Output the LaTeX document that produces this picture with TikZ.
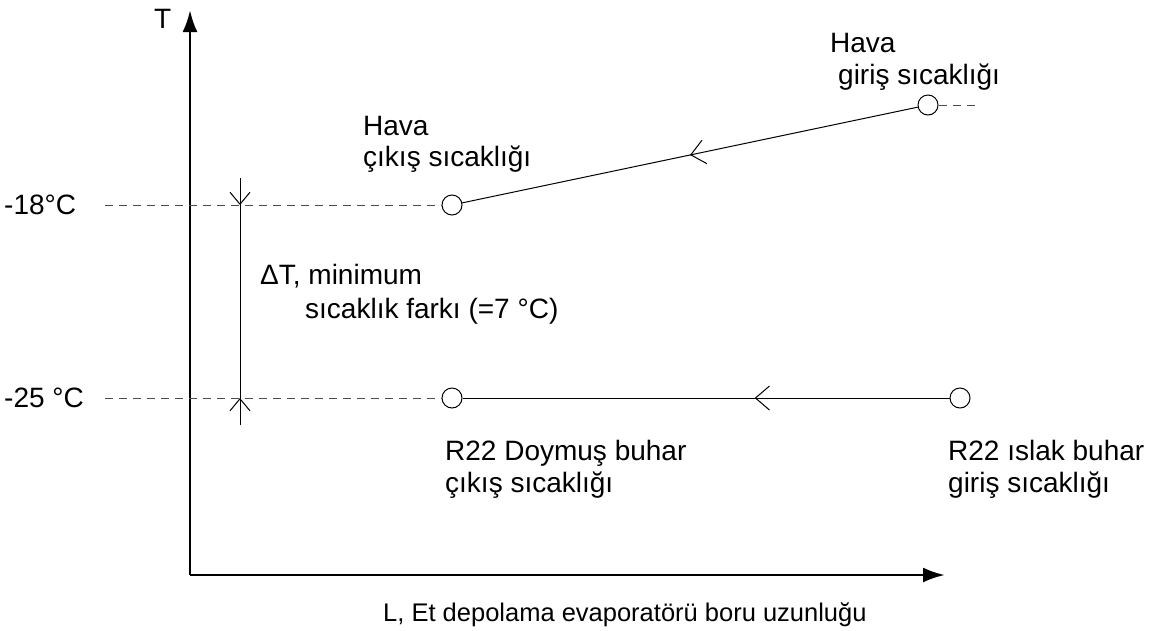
\documentclass[tikz,border=0pt]{standalone}
\usepackage{fontspec}
\setmainfont{Liberation Sans}
\usetikzlibrary{arrows.meta,decorations.markings}
\begin{document}
\begin{tikzpicture}[x=1pt,y=-1pt,
  lbl/.style={anchor=base west,inner sep=0pt,font=\fontsize{28}{32}\selectfont},
  pt/.style={circle,draw,minimum size=20pt,inner sep=0pt,line width=1pt},
  axis/.style={line width=2.8pt,-{Latex[length=22pt,width=15pt]}},
  guide/.style={dashed,draw=black!70,line width=1pt,dash pattern=on 8pt off 6pt},
  flow/.style={line width=1pt},
  barb/.style={-{Straight Barb[length=12pt,width=20pt,line width=1pt]}}
]
\useasboundingbox (0,0) rectangle (1169,630);
% axes
\coordinate (O) at (190,575);
\coordinate (Ytop) at (190,10);
\coordinate (Xend) at (945,575);
\draw[axis] (O) -- (Ytop);
\draw[axis] (O) -- (Xend);
\node[lbl] (T) at (154,28) {T};
% points
\node[pt] (c1) at (452,205) {};
\node[pt] (c2) at (928,105) {};
\node[pt] (c3) at (452,398) {};
\node[pt] (c4) at (960,398) {};
\coordinate (d18) at (105,205);
\coordinate (d25) at (105,398);
\coordinate (d2e) at (975,105);
\draw[guide] (d18) -- (c1.west);
\draw[guide] (d25) -- (c3.west);
\draw[guide] (c2.east) -- (d2e);
% flow lines
\draw[flow,decoration={markings,mark=at position 0.5 with {\arrow{Straight Barb[length=14pt,width=24pt,line width=1pt]}}},postaction=decorate] (c2) -- (c1);
\draw[flow,decoration={markings,mark=at position 0.4 with {\arrow{Straight Barb[length=14pt,width=24pt,line width=1pt]}}},postaction=decorate] (c4) -- (c3);
% delta T
\coordinate (dtTop) at (240,178);
\coordinate (dtA) at (240,205);
\coordinate (dtB) at (240,398);
\coordinate (dtBot) at (240,425);
\draw[line width=1pt] (dtTop) -- (dtBot);
\draw[line width=1pt,barb] (dtTop) -- (dtA);
\draw[line width=1pt,barb] (dtBot) -- (dtB);
% labels
\node[lbl] (l18) at (4,214) {-18°C};
\node[lbl] (l25) at (4,407) {-25 °C};
\node[lbl] (h1a) at (363,135) {Hava};
\node[lbl] (h1b) at (363,166) {çıkış sıcaklığı};
\node[lbl] (h2a) at (830,52) {Hava};
\node[lbl] (h2b) at (838,84) {giriş sıcaklığı};
\node[lbl] (dt1) at (260,284) {ΔT, minimum};
\node[lbl] (dt2) at (305,318) {sıcaklık farkı (=7 °C)};
\node[lbl] (r1a) at (445,460) {R22 Doymuş buhar};
\node[lbl] (r1b) at (445,492) {çıkış sıcaklığı};
\node[lbl] (r2a) at (948,460) {R22 ıslak buhar};
\node[lbl] (r2b) at (948,492) {giriş sıcaklığı};
\node[lbl,font=\fontsize{25.5}{30}\selectfont] (xl) at (383,621) {L, Et depolama evaporatörü boru uzunluğu};
\end{tikzpicture}
\end{document}
